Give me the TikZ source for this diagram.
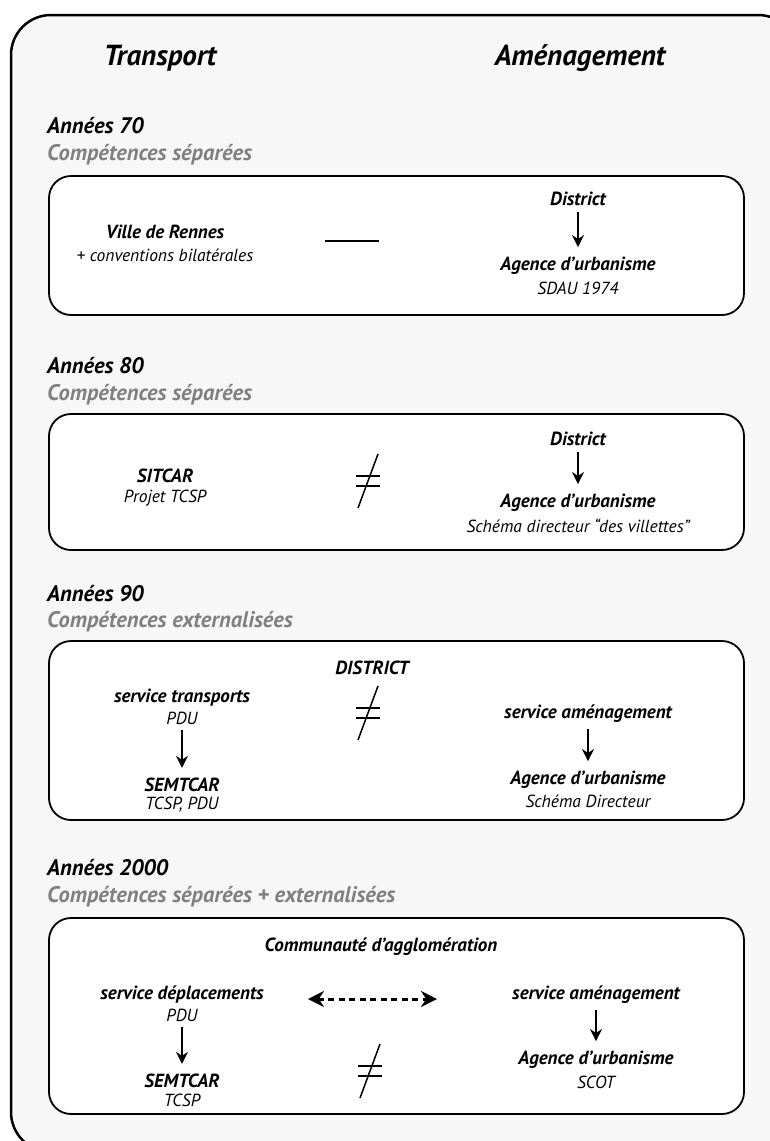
\documentclass[tikz,border=0pt]{standalone}
\usepackage{fontspec}
\setmainfont{PT Sans}
\usetikzlibrary{arrows.meta}

\begin{document}
\begin{tikzpicture}[x=1pt,y=-1pt]
    \tikzstyle{frame}=[draw=black, line width=2.5, fill=black!3, rounded corners=40]
    \tikzstyle{box}=[draw=black, line width=1.8, fill=white, rounded corners=22]
    \tikzstyle{title}=[font=\fontsize{29}{34}\selectfont\bfseries\itshape]
    \tikzstyle{period}=[anchor=west, inner sep=0, font=\fontsize{22.5}{26}\selectfont\bfseries\itshape]
    \tikzstyle{comp}=[period, text=black!50]
    \tikzstyle{actor}=[inner sep=1, font=\fontsize{19}{22}\selectfont\bfseries\itshape]
    \tikzstyle{doc}=[inner sep=1, font=\fontsize{17.5}{20}\selectfont\itshape]
    \tikzstyle{edge}=[line width=1.5, draw=black]
    \tikzstyle{dedge}=[line width=1.8, draw=black, -{Stealth[length=12,width=12]},
      shorten <=5, shorten >=9]
    \tikzstyle{wedge}=[line width=3, draw=black, dash pattern=on 6 off 4.5,
      {Stealth[length=16,width=16]}-{Stealth[length=16,width=16]}]

    \clip (0,0) rectangle (770,1141);
    \fill[white] (0,0) rectangle (770,1141);
    \draw[frame] (11,15) rectangle (798,1152);

    \node[title] (transport) at (160,58) {Transport};
    \node[title] (amenagement) at (580,58) {Aménagement};

    % annees 70
    \node[period] (p70) at (47,126) {Années 70};
    \node[comp] (c70) at (47,155) {Compétences séparées};
    \draw[box] (49,176) rectangle (744,315);
    \node[actor] (ville) at (165,232) {Ville de Rennes};
    \node[doc] (conv) at (165,255) {+ conventions bilatérales};
    \coordinate (l70) at (325,241);
    \coordinate (r70) at (379,241);
    \draw[edge] (l70)--(r70);
    \node[actor] (district70) at (578,199) {District};
    \node[actor] (agence70) at (578,266) {Agence d’urbanisme};
    \node[doc] (sdau) at (578,288) {SDAU 1974};
    \draw[dedge] (district70)--(agence70);

    % annees 80
    \node[period] (p80) at (47,366) {Années 80};
    \node[comp] (c80) at (47,395) {Compétences séparées};
    \draw[box] (49,414) rectangle (744,550);
    \node[actor] (sitcar) at (165,476) {SITCAR};
    \node[doc] (projet) at (165,498) {Projet TCSP};
    \coordinate (ne80) at (368,481);
    \node[actor] (district80) at (578,439) {District};
    \node[actor] (agence80) at (578,503) {Agence d’urbanisme};
    \node[doc] (villettes) at (578,526) {Schéma directeur “des villettes”};
    \draw[dedge] (district80)--(agence80);

    % annees 90
    \node[period] (p90) at (47,594) {Années 90};
    \node[comp] (c90) at (47,622) {Compétences externalisées};
    \draw[box] (49,641) rectangle (744,820);
    \node[actor] (district90) at (372,668) {DISTRICT};
    \node[actor] (transp90) at (182,698) {service transports};
    \node[doc] (pdu90) at (182,718) {PDU};
    \node[actor] (semtcar90) at (182,785) {SEMTCAR};
    \node[doc] (tcsp90) at (182,805) {TCSP, PDU};
    \draw[dedge] (pdu90)--(semtcar90);
    \coordinate (ne90) at (368,713);
    \node[actor] (amen90) at (588,714) {service aménagement};
    \node[actor] (agence90) at (588,780) {Agence d’urbanisme};
    \node[doc] (sd90) at (588,801) {Schéma Directeur};
    \draw[dedge] (amen90)--(agence90);

    % annees 2000
    \node[period] (p00) at (47,868) {Années 2000};
    \node[comp] (c00) at (47,897) {Compétences séparées + externalisées};
    \draw[box] (49,918) rectangle (744,1114);
    \node[actor] (cau) at (381,947) {Communauté d’agglomération};
    \node[actor] (depl00) at (182,995) {service déplacements};
    \node[doc] (pdu00) at (182,1015) {PDU};
    \node[actor] (semtcar00) at (182,1081) {SEMTCAR};
    \node[doc] (tcsp00) at (182,1100) {TCSP};
    \draw[dedge] (pdu00)--(semtcar00);
    \node[actor] (amen00) at (596,995) {service aménagement};
    \node[actor] (agence00) at (596,1060) {Agence d’urbanisme};
    \node[doc] (scot) at (596,1082) {SCOT};
    \draw[dedge] (amen00)--(agence00);
    \coordinate (dl00) at (308,999);
    \coordinate (dr00) at (437,999);
    \draw[wedge] (dl00)--(dr00);
    \coordinate (ne00) at (370,1071);

    \foreach \c in {ne80,ne90,ne00} {
      \draw[edge] (\c) ++(-12,-5) -- ++(24,0);
      \draw[edge] (\c) ++(-12,5) -- ++(24,0);
      \draw[edge] (\c) ++(-10,27) -- ++(20,-54);
    }
\end{tikzpicture}
\end{document}
